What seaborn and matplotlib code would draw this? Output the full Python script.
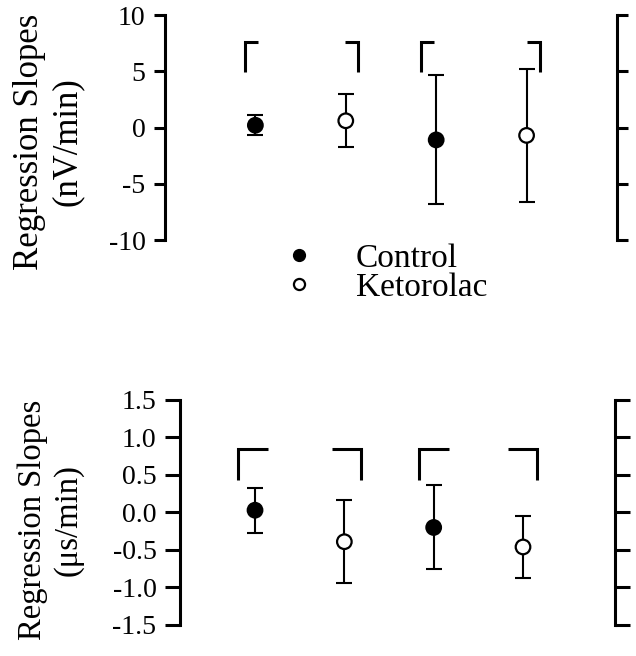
import numpy as np
import pandas as pd
import seaborn as sns
import matplotlib.pyplot as plt
from matplotlib.lines import Line2D

# data
positions = [1, 2, 3, 4]
groups = ["Control", "Ketorolac", "Control", "Ketorolac"]

nv_mean = [0.2, 0.6, -1.1, -0.7]
nv_err = [0.89, 2.37, 5.74, 5.9]

us_mean = [0.03, -0.39, -0.2, -0.46]
us_err = [0.3, 0.55, 0.56, 0.41]

nv_ticks = [-10, -5, 0, 5, 10]
us_ticks = [-1.5, -1.0, -0.5, 0.0, 0.5, 1.0, 1.5]

# bracket pieces (start x, end x) and their y range
nv_brackets = [(0.88, 2.14), (2.83, 4.15)]
nv_bracket_y = (4.9, 7.6)
us_brackets = [(0.81, 2.19), (2.84, 4.16)]
us_bracket_y = (0.43, 0.84)

sns.set_style("white")
plt.rcParams['font.family'] = ['Liberation Serif', 'DejaVu Serif']
plt.rcParams['text.color'] = 'black'
plt.rcParams['axes.labelcolor'] = 'black'
plt.rcParams['ytick.color'] = 'black'

palette = {"Control": "black", "Ketorolac": "white"}


def draw_panel(ax, mean, err, ticks, brackets, bracket_y, arm, ylabel, fmt):
    df = pd.DataFrame({"x": positions, "y": mean, "err": err, "group": groups})
    ax.errorbar(df["x"], df["y"], yerr=df["err"], fmt="none", ecolor="black",
                elinewidth=1.5, capsize=6, capthick=1.5, zorder=2)
    sns.scatterplot(data=df, x="x", y="y", hue="group", palette=palette,
                    edgecolor="black", linewidth=1.6, s=110, legend=False,
                    ax=ax, zorder=3)
    lo, hi = bracket_y
    for x0, x1 in brackets:
        ax.plot([x0, x0, x0 + arm], [lo, hi, hi], color="black", lw=2.2,
                solid_joinstyle="miter", solid_capstyle="butt")
        ax.plot([x1 - arm, x1, x1], [hi, hi, lo], color="black", lw=2.2,
                solid_joinstyle="miter", solid_capstyle="butt")
    ax.set_ylim(ticks[0], ticks[-1])
    ax.set_yticks(ticks)
    ax.set_yticklabels([fmt.format(t) for t in ticks])
    ax.set_xticks([])
    ax.set_xlabel("")
    ax.set_ylabel(ylabel, fontsize=25, linespacing=1.2, color="black")
    for side in ["top", "bottom"]:
        ax.spines[side].set_visible(False)
    for side in ["left", "right"]:
        ax.spines[side].set_linewidth(2.2)
        ax.spines[side].set_color("black")
    ax.tick_params(axis="y", which="both", left=True, right=True,
                   labelright=False, direction="out", length=8, width=2.2,
                   labelsize=20, pad=6, colors="black")


fig = plt.figure(figsize=(6.36, 6.56), dpi=100)
ax1 = fig.add_axes([0.2594, 0.6341, 0.7107, 0.343])
ax2 = fig.add_axes([0.283, 0.0473, 0.684, 0.343])

draw_panel(ax1, nv_mean, nv_err, nv_ticks, nv_brackets, nv_bracket_y, 0.15,
           "Regression Slopes\n(nV/min)", "{:g}")
ax1.set_xlim(0, 5)
ax1.yaxis.set_label_coords(-0.18, 0.436)

draw_panel(ax2, us_mean, us_err, us_ticks, us_brackets, us_bracket_y, 0.33,
           "Regression Slopes\n(μs/min)", "{:.1f}")
ax2.set_xlim(0.16, 5.03)
ax2.tick_params(axis="y", length=11)
ax2.yaxis.label.set_fontsize(23.5)
ax2.yaxis.set_label_coords(-0.222, 0.467)

handles = [
    Line2D([], [], marker="o", ls="none", markerfacecolor="black",
           markeredgecolor="black", markersize=8.5),
    Line2D([], [], marker="o", ls="none", markerfacecolor="white",
           markeredgecolor="black", markeredgewidth=1.6, markersize=8),
]
leg = fig.legend(handles, ["Control", "Ketorolac"], loc="center left",
                 bbox_to_anchor=(0.418, 0.584), frameon=False, fontsize=24,
                 handlelength=1.0, handletextpad=1.2, labelspacing=-0.05,
                 borderpad=0)
for t in leg.get_texts():
    t.set_color("black")

plt.savefig("out.png", dpi=100)
